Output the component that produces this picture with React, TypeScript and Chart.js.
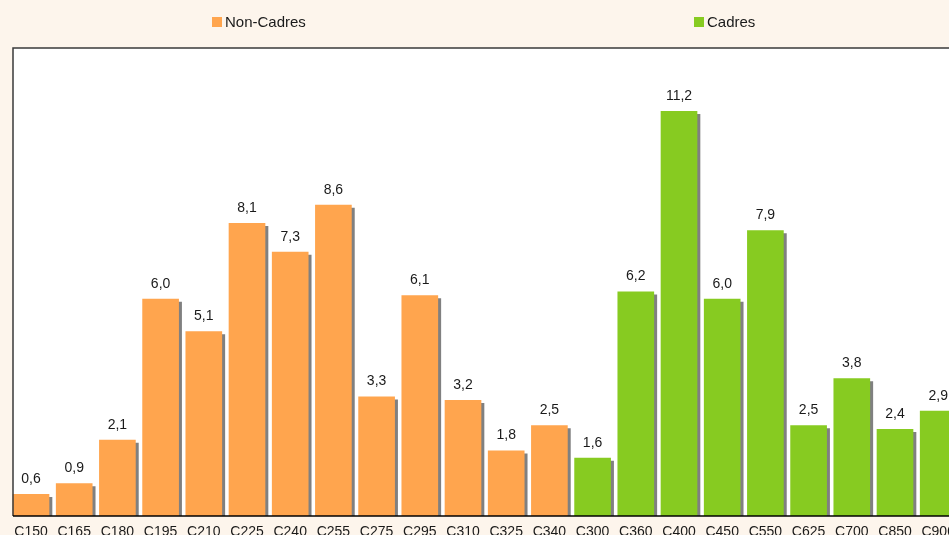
import React, { useEffect, useRef } from "react";
import { Chart, registerables } from "chart.js";

Chart.register(...registerables);

const nonCadresLabels = ["C150", "C165", "C180", "C195", "C210", "C225", "C240", "C255", "C275", "C295", "C310", "C325", "C340"];
const nonCadresValues = [0.6, 0.9, 2.1, 6.0, 5.1, 8.1, 7.3, 8.6, 3.3, 6.1, 3.2, 1.8, 2.5];
const cadresLabels = ["C300", "C360", "C400", "C450", "C550", "C625", "C700", "C850", "C900"];
const cadresValues = [1.6, 6.2, 11.2, 6.0, 7.9, 2.5, 3.8, 2.4, 2.9];

const ORANGE = "#FFA54E";
const GREEN = "#87CB21";
const BG = "#FDF5EC";
const FONT = "'Liberation Sans', Arial, sans-serif";

export default function App() {
  const ref = useRef<HTMLCanvasElement | null>(null);

  useEffect(() => {
    const canvas = ref.current;
    if (!canvas) return;
    const labels = [...nonCadresLabels, ...cadresLabels];
    const ncData = [...nonCadresValues, ...cadresValues.map(() => null)];
    const cData = [...nonCadresValues.map(() => null), ...cadresValues];

    const framePlugin = {
      id: "frame",
      beforeDraw(chart: any) {
        const { ctx, chartArea } = chart;
        ctx.save();
        ctx.fillStyle = BG;
        ctx.fillRect(0, 0, chart.width, chart.height);
        ctx.fillStyle = "#ffffff";
        ctx.fillRect(13, chartArea.top, chartArea.right - 13, chartArea.bottom - chartArea.top);
        ctx.restore();
      },
      beforeDatasetsDraw(chart: any) {
        const ctx = chart.ctx;
        ctx.save();
        ctx.shadowColor = "#808080";
        ctx.shadowOffsetX = 3;
        ctx.shadowOffsetY = 3;
        ctx.shadowBlur = 0;
      },
      afterDatasetsDraw(chart: any) {
        const { ctx, chartArea } = chart;
        ctx.restore();
        ctx.save();
        // data labels
        ctx.font = `14px ${FONT}`;
        ctx.fillStyle = "#1a1a1a";
        ctx.textAlign = "center";
        ctx.textBaseline = "alphabetic";
        chart.data.datasets.forEach((ds: any, di: number) => {
          const meta = chart.getDatasetMeta(di);
          meta.data.forEach((el: any, i: number) => {
            const v = ds.data[i];
            if (v === null || v === undefined) return;
            ctx.fillText(v.toFixed(1).replace(".", ","), el.x, el.y - 11.5);
          });
        });
        // frame lines
        ctx.lineWidth = 1.5;
        ctx.strokeStyle = "#3a3a3a";
        ctx.beginPath();
        ctx.moveTo(13, chartArea.bottom);
        ctx.lineTo(13, chartArea.top);
        ctx.lineTo(chartArea.right, chartArea.top);
        ctx.stroke();
        ctx.strokeStyle = "#000000";
        ctx.beginPath();
        ctx.moveTo(13, chartArea.bottom);
        ctx.lineTo(chartArea.right, chartArea.bottom);
        ctx.stroke();
        // legend
        ctx.font = `15px ${FONT}`;
        ctx.textAlign = "left";
        ctx.textBaseline = "middle";
        const items = [
          { x: 212, label: "Non-Cadres", color: ORANGE },
          { x: 694, label: "Cadres", color: GREEN },
        ];
        items.forEach((it) => {
          ctx.fillStyle = it.color;
          ctx.fillRect(it.x, 17, 10, 10);
          ctx.fillStyle = "#1a1a1a";
          ctx.fillText(it.label, it.x + 13, 23);
        });
        ctx.restore();
      },
    };

    const chart = new Chart(canvas, {
      type: "bar",
      data: {
        labels,
        datasets: [
          { label: "Non-Cadres", data: ncData, backgroundColor: ORANGE, borderWidth: 0, clip: 0 } as any,
          { label: "Cadres", data: cData, backgroundColor: GREEN, borderWidth: 0, clip: 0 } as any,
        ],
      },
      options: {
        responsive: false,
        animation: false,
        devicePixelRatio: 1,
        layout: { padding: { left: 9.4, top: 48, right: 15.2, bottom: 11.2 } },
        datasets: { bar: { barThickness: 36 } } as any,
        plugins: { legend: { display: false }, tooltip: { enabled: false } },
        scales: {
          x: {
            type: "category",
            stacked: true,
            offset: true,
            grid: { display: false, drawTicks: false },
            border: { display: false },
            ticks: {
              color: "#1a1a1a",
              font: { family: FONT, size: 14 },
              padding: 8,
              labelOffset: 0,
              autoSkip: false,
              maxRotation: 0,
            },
          },
          y: {
            display: false,
            stacked: true,
            min: 0,
            max: 12.95,
          },
        },
      },
      plugins: [framePlugin],
    });
    return () => chart.destroy();
  }, []);

  return (
    <div style={{ position: "fixed", left: 0, top: 0, width: 949, height: 535, overflow: "hidden", background: BG }}>
      <canvas ref={ref} width={975} height={560} style={{ width: 975, height: 560, display: "block" }} />
    </div>
  );
}
